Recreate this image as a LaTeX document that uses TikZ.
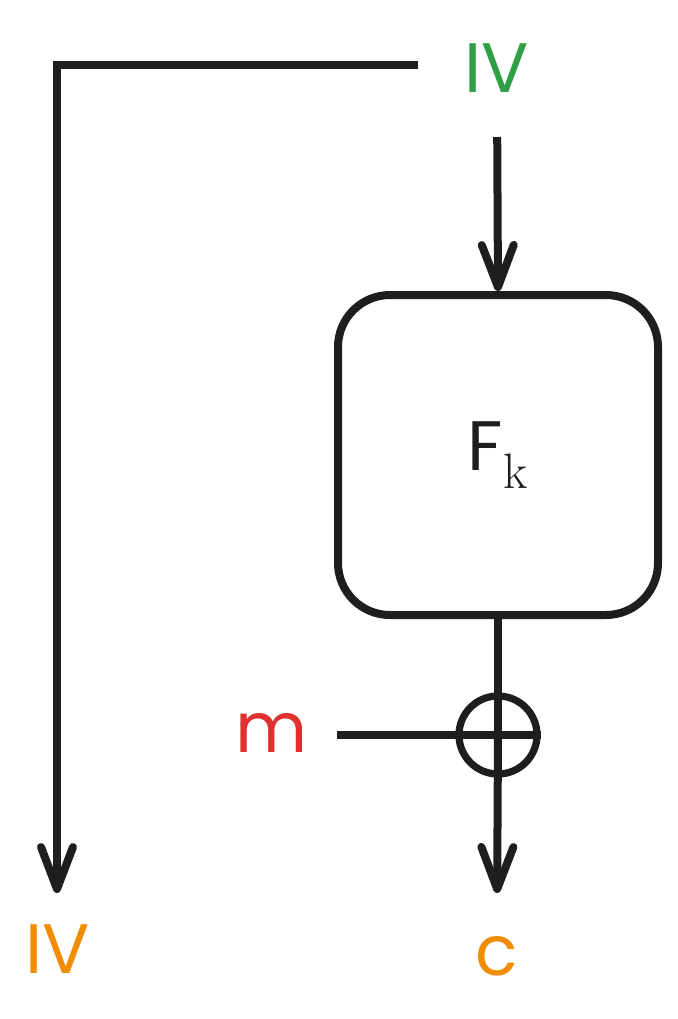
\documentclass[tikz,border=0pt]{standalone}
\usepackage[no-math]{fontspec}
\setmainfont{Poppins}
\usetikzlibrary{arrows.meta,positioning}

\definecolor{ink}{RGB}{30,30,30}
\definecolor{ivgreen}{RGB}{47,158,68}
\definecolor{ivorange}{RGB}{240,140,0}
\definecolor{mred}{RGB}{224,49,49}

\tikzset{
  lbl/.style={inner sep=0pt, text height=25pt, text depth=0pt,
    font=\fontsize{35}{40}\selectfont},
  prfbox/.style={draw, rounded corners=26pt, minimum width=160pt,
    minimum height=160pt, inner sep=0pt, font=\fontsize{35}{40}\selectfont},
  xorc/.style={draw, circle, minimum size=39pt, inner sep=0pt, line width=3.6pt},
  tip/.style={-{Straight Barb[length=21pt,width=16pt,round]}}
}

\begin{document}
\begin{tikzpicture}[x=0.5pt, y=-0.5pt, line width=4pt, color=ink]
	\useasboundingbox (0,0) rectangle (678,1019);

	\node[lbl, text=ivgreen] (ivin) at (497,67) {IV};
	\node[prfbox] (fk) at (498,455) {F$_{\mathrm{k}}$};
	\node[xorc] (xor) at (498,735) {};
	\node[lbl, text=mred] (msg) at (272,727) {m};
	\node[lbl, text=ivorange] (ivout) at (58,948) {IV};
	\node[lbl, text=ivorange] (ctxt) at (497,950) {c};

	\coordinate (ivtap) at (418,65);
	\coordinate (corner) at (57,65);
	\coordinate (mtap) at (337,735);

	% IV passed on in the clear
	\draw[tip, shorten >=13pt] (ivtap) -- (corner) -- (corner |- ivout.north);
	\draw[tip, shorten <=20.5pt] (ivin.south) -- (fk.north);

	\draw (fk.south) -- (xor.center);
	\draw (mtap) -- (xor.east);
	\draw[tip, shorten >=14pt] (xor.center) -- (ctxt.north);
\end{tikzpicture}
\end{document}
